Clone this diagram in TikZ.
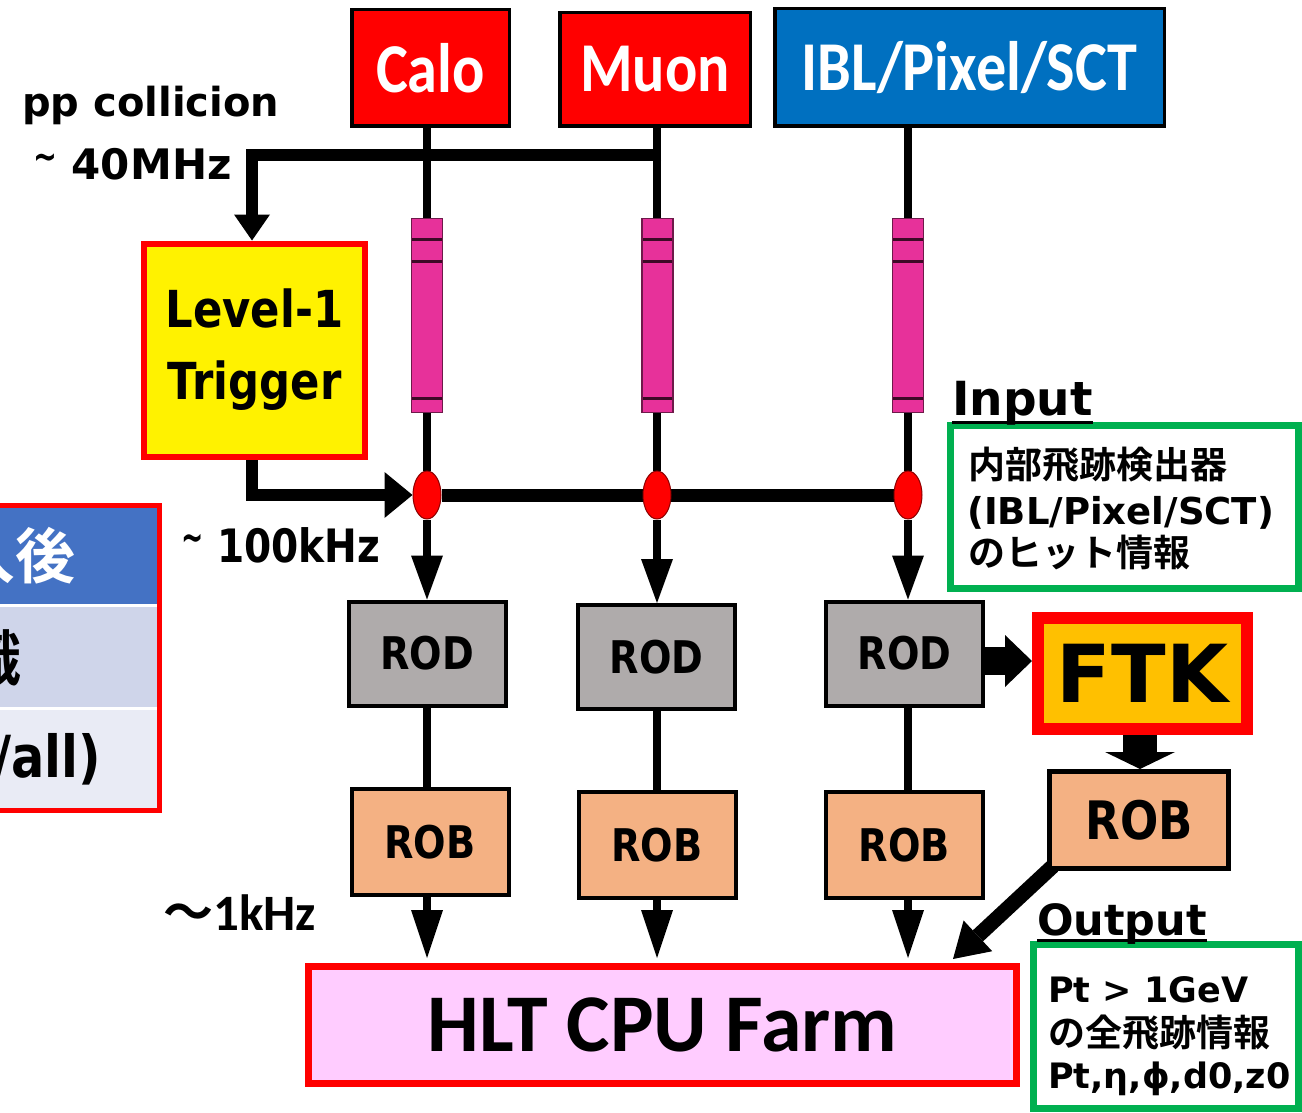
\documentclass[tikz,border=0pt]{standalone}
\usepackage{fontspec}
\setmainfont{DejaVu Sans}
\newfontfamily\vf{DejaVu Sans}[FakeStretch=0.85]
\newfontfamily\kf{Carlito}
\newfontfamily\kcf{Carlito}[FakeStretch=0.86]
\newfontfamily\jf{Noto Sans CJK JP}[BoldFont={Noto Sans CJK JP Bold}]
\usetikzlibrary{arrows.meta,shapes.geometric}
\newcommand\fsz[1]{\fontsize{#1}{#1}\selectfont}
\newcommand\smalltilde{\raisebox{0.22em}{\scalebox{0.68}[0.9]{\textasciitilde}}}
\pgfdeclarelayer{bg}
\pgfsetlayers{bg,main}

\definecolor{iblblue}{HTML}{0070C0}
\definecolor{pipefill}{HTML}{E7319A}
\definecolor{pipeedge}{HTML}{6E1A4A}
\definecolor{pipestripe}{HTML}{3D0A26}
\definecolor{rodgray}{HTML}{AFABAB}
\definecolor{roborange}{HTML}{F4B183}
\definecolor{hltpink}{HTML}{FFCCFF}
\definecolor{ftkorange}{HTML}{FFC000}
\definecolor{boxgreen}{HTML}{00B050}
\definecolor{tabhead}{HTML}{4472C4}
\definecolor{tabrowa}{HTML}{CFD5EA}
\definecolor{tabrowb}{HTML}{E9EBF5}

\tikzset{
  srcbox/.style={draw=black, line width=3.5pt, inner sep=0pt, text=white, font=\kcf\bfseries\fsz{70}},
  rodbox/.style={draw=black, line width=4pt, fill=rodgray, inner sep=0pt,
    minimum width=157pt, minimum height=104pt, font=\vf\bfseries\fsz{45}},
  robbox/.style={draw=black, line width=4pt, fill=roborange, inner sep=0pt,
    minimum width=157pt, minimum height=106pt, font=\vf\bfseries\fsz{45}},
  pipe/.style={draw=pipeedge, line width=1.5pt, fill=pipefill, inner sep=0pt,
    minimum width=31pt, minimum height=194pt,
    path picture={
      \foreach \d in {21,43}{
        \draw[line width=3pt, pipestripe]
          ([yshift=-\d pt]path picture bounding box.north west) --
          ([yshift=-\d pt]path picture bounding box.north east);}
      \draw[line width=3pt, pipestripe]
          ([yshift=14pt]path picture bounding box.south west) --
          ([yshift=14pt]path picture bounding box.south east);}},
  gate/.style={ellipse, fill=red, draw=red!55!black, line width=1pt,
    minimum width=28pt, minimum height=48pt, inner sep=0pt},
  greenbox/.style={draw=boxgreen, line width=7pt, inner sep=0pt},
  lbl/.style={inner sep=0pt, font=\bfseries},
  wire/.style={line width=8pt, draw=black},
  tipdown/.style={-{Triangle[width=32pt,length=44pt,line width=0pt]}},
  tiplong/.style={-{Triangle[width=32pt,length=48pt,line width=0pt]}, shorten >=5pt},
}

\begin{document}
\begin{tikzpicture}[x=1pt,y=-1pt]
\useasboundingbox (0,0) rectangle (1302,1113);
\begin{pgfonlayer}{bg}
  \fill[white] (0,0) rectangle (1302,1113);
\end{pgfonlayer}

% column positions of the three readout chains
\coordinate (c1) at (427,0);
\coordinate (c2) at (657,0);
\coordinate (c3) at (908,0);
\coordinate (tl) at (252,155);
\coordinate (bus) at (0,495);
\coordinate (a1) at (0,661);
\coordinate (a2) at (1140,0);
\coordinate (d1) at (953,959);

% detectors
\node[srcbox, fill=red, minimum width=157.5pt, minimum height=116.5pt] (calo) at (430.5,68) {Calo};
\node[srcbox, fill=red, minimum width=190.5pt, minimum height=113.5pt] (muon) at (655,69.5) {Muon};
\node[srcbox, fill=iblblue, minimum width=389.5pt, minimum height=117.5pt] (ibl) at (969.5,67.5) {IBL/Pixel/SCT};

% level-1 trigger
\node[draw=red, line width=6pt, fill=yellow, inner sep=0pt, minimum width=221pt, minimum height=213pt,
      align=center, font=\vf\bfseries\fontsize{51}{72}\selectfont] (trig) at (254.5,350) {Level-1\\Trigger};

% pipelines
\node[pipe] (p1) at (427,315.5) {};
\node[pipe] (p2) at (657.5,315.5) {};
\node[pipe] (p3) at (908,315.5) {};

% trigger gates
\node[gate] (e1) at (c1 |- bus) {};
\node[gate] (e2) at (c2 |- bus) {};
\node[gate] (e3) at (c3 |- bus) {};

% readout drivers and buffers
\node[rodbox] (rod1) at (427,653.5) {ROD};
\node[rodbox] (rod2) at (656.5,657) {ROD};
\node[rodbox] (rod3) at (904.5,653.5) {ROD};
\node[robbox] (rob1) at (430,842) {ROB};
\node[robbox] (rob2) at (657,845) {ROB};
\node[robbox] (rob3) at (904.5,845) {ROB};

% FTK and its buffer
\node[draw=red, line width=12pt, fill=ftkorange, inner sep=0pt, minimum width=209pt, minimum height=111pt,
      font=\bfseries\fsz{80}] (ftk) at (1142.5,673.5) {FTK};
\node[draw=black, line width=5pt, fill=roborange, inner sep=0pt, minimum width=179pt, minimum height=97pt,
      font=\vf\bfseries\fsz{53}] (rob4) at (1139,820) {ROB};

% HLT farm
\node[draw=red, line width=7pt, fill=hltpink, inner sep=0pt, minimum width=708pt, minimum height=117pt,
      font=\kf\bfseries\fsz{82}] (hlt) at (662.5,1025) {HLT CPU Farm};

% connectors
\begin{pgfonlayer}{bg}
  \draw[wire] (calo.south -| c1) -- (e1);
  \draw[wire] (muon.south -| c2) -- (e2);
  \draw[wire] (ibl.south -| c3) -- (e3);
  \draw[wire, line width=13pt] (e1) -- (e3);
  \draw[wire, line width=12pt, line join=miter, -{Triangle[width=36pt,length=26pt,line width=0pt]}]
    ([xshift=4pt]c2 |- tl) -- (tl) -- (trig.north -| tl);
  \draw[wire, line width=12pt, line join=miter, -{Triangle[width=46pt,length=28pt,line width=0pt]}]
    (trig.south -| tl) -- (tl |- e1) -- (e1.west);
  \draw[wire, tipdown] (e1) -- (rod1.north -| c1);
  \draw[wire, tipdown] (e2) -- (rod2.north -| c2);
  \draw[wire, tipdown] (e3) -- (rod3.north -| c3);
  \draw[wire] (rod1.south -| c1) -- (rob1.north -| c1);
  \draw[wire] (rod2.south -| c2) -- (rob2.north -| c2);
  \draw[wire] (rod3.south -| c3) -- (rob3.north -| c3);
  \draw[wire, tiplong] (rob1.south -| c1) -- (hlt.north -| c1);
  \draw[wire, tiplong] (rob2.south -| c2) -- (hlt.north -| c2);
  \draw[wire, tiplong] (rob3.south -| c3) -- (hlt.north -| c3);
  \draw[line width=28pt, -{Triangle[width=52pt,length=27pt,line width=0pt]}]
    (rod3.east |- a1) -- (ftk.west |- a1);
  \draw[line width=34pt, -{Triangle[width=70pt,length=17pt,line width=0pt]}]
    (ftk.south -| a2) -- (rob4.north -| a2);
  \draw[line width=15pt, -{Triangle[width=42pt,length=34pt,line width=0pt]}]
    ([shift={(6pt,5pt)}]rob4.south west) -- (d1);
\end{pgfonlayer}

% rate labels
\node[lbl, anchor=base west, font=\bfseries\fsz{40}] (pp) at (22,117) {pp collicion};
\node[lbl, anchor=base west, font=\bfseries\fsz{42}] (r40) at (33,179) {\smalltilde\ 40MHz};
\node[lbl, anchor=base west, font=\vf\bfseries\fsz{46}] (r100) at (181,562) {\smalltilde\ 100kHz};
\node[lbl, anchor=base west] (r1k) at (163,930) {{\jf\fsz{50}〜}{\kf\bfseries\fsz{51}1kHz}};

% FTK input description
\node[greenbox, minimum width=348pt, minimum height=163pt] (inbox) at (1124.5,507) {};
\node[lbl, anchor=base west, font=\bfseries\fsz{47}] (inlbl) at (952,415) {Input};
\draw[line width=3pt] ([yshift=-7pt]inlbl.base west) -- ([yshift=-7pt]inlbl.base east);
\node[lbl, anchor=base west, font=\jf\bfseries\fsz{37}] (in1) at (968,478) {内部飛跡検出器};
\node[lbl, anchor=base west, font=\bfseries\fsz{37}] (in2) at (967,524) {(IBL/Pixel/SCT)};
\node[lbl, anchor=base west, font=\jf\bfseries\fsz{37}] (in3) at (968,566) {のヒット情報};

% FTK output description
\node[greenbox, minimum width=265pt, minimum height=164pt] (outbox) at (1166,1026.5) {};
\node[lbl, anchor=base west, font=\bfseries\fsz{43}] (outlbl) at (1037,935) {Output};
\draw[line width=3pt] ([yshift=-5pt]outlbl.base west) -- ([yshift=-5pt]outlbl.base east);
\node[lbl, anchor=base west, font=\bfseries\fsz{35}] (out1) at (1048,1002) {Pt > 1GeV};
\node[lbl, anchor=base west, font=\jf\bfseries\fsz{37}] (out2) at (1048,1046) {の全飛跡情報};
\node[lbl, anchor=base west, font=\bfseries\fsz{35}] (out3) at (1048,1088) {Pt,η,ϕ,d0,z0};

% table at the left edge
\fill[tabhead] (-20,505) rectangle (160,604);
\fill[tabrowa] (-20,607) rectangle (160,707);
\fill[tabrowb] (-20,710) rectangle (160,810);
\draw[red, line width=5pt] (-20,505.5) rectangle (159.5,810.5);
\node[lbl, anchor=east, text=white, font=\jf\bfseries\fsz{60}] (t1) at (76,556) {導入後};
\node[lbl, anchor=east, font=\jf\bfseries\fsz{60}] (t2) at (22,658) {認識};
\node[lbl, anchor=base east, font=\vf\bfseries\fsz{58}] (t3) at (101,777) {(w/all)};
\end{tikzpicture}
\end{document}
